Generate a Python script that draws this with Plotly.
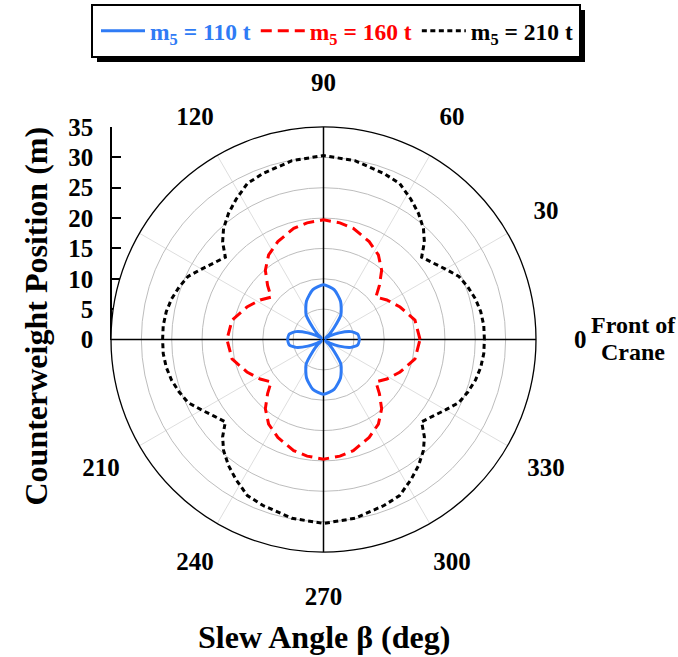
import plotly.graph_objects as go

# ---------------- data ----------------
theta_210 = [0, 5, 10, 15, 20, 25, 30, 35, 40, 44, 48, 53, 58, 64, 70, 80, 90,
             100, 110, 116, 122, 127, 132, 136, 140, 145, 150, 155, 160, 165, 170, 175, 180,
             185, 190, 195, 200, 205, 210, 215, 220, 224, 228, 233, 238, 244, 250, 260, 270,
             280, 290, 296, 302, 307, 312, 316, 320, 325, 330, 335, 340, 345, 350, 355, 360]
r_210 = [26.5, 26.5, 26.3, 25.9, 25.3, 24.6, 23.2, 22.0, 21.1, 23.1, 24.6, 26.0, 27.2, 28.6, 29.1, 29.9, 30.3,
         29.9, 29.1, 28.6, 27.2, 26.0, 24.6, 23.1, 21.1, 22.0, 23.2, 24.6, 25.3, 25.9, 26.3, 26.5, 26.5,
         26.5, 26.3, 25.9, 25.3, 24.6, 23.2, 22.0, 21.1, 23.1, 24.6, 26.0, 27.2, 28.6, 29.1, 29.9, 30.3,
         29.9, 29.1, 28.6, 27.2, 26.0, 24.6, 23.1, 21.1, 22.0, 23.2, 24.6, 25.3, 25.9, 26.3, 26.5, 26.5]

theta_160 = [0, 12, 23, 32, 39, 44, 50, 57, 65, 75, 82, 90,
             98, 105, 115, 123, 130, 136, 141, 148, 157, 168, 180,
             192, 203, 212, 219, 224, 230, 237, 245, 255, 262, 270,
             278, 285, 295, 303, 310, 316, 321, 328, 337, 348, 360]
r_160 = [15.9, 15.4, 13.7, 12.3, 11.1, 12.8, 14.9, 16.6, 17.8, 18.95, 19.4, 19.7,
         19.4, 18.95, 17.8, 16.6, 14.9, 12.8, 11.1, 12.3, 13.7, 15.4, 15.9,
         15.4, 13.7, 12.3, 11.1, 12.8, 14.9, 16.6, 17.8, 18.95, 19.4, 19.7,
         19.4, 18.95, 17.8, 16.6, 14.9, 12.8, 11.1, 12.3, 13.7, 15.4, 15.9]

theta_110 = [0, 9, 16, 23, 30, 36, 42, 48, 55, 66, 78, 90,
             102, 114, 125, 132, 138, 144, 150, 157, 164, 171, 180,
             189, 196, 203, 210, 216, 222, 228, 235, 246, 258, 270,
             282, 294, 305, 312, 318, 324, 330, 337, 344, 351, 360]
r_110 = [5.9, 5.7, 4.7, 2.8, 1.2, 0.4, 1.3, 2.6, 5.0, 6.9, 8.4, 9.0,
         8.4, 6.9, 5.0, 2.6, 1.3, 0.4, 1.2, 2.8, 4.7, 5.7, 5.9,
         5.7, 4.7, 2.8, 1.2, 0.4, 1.3, 2.6, 5.0, 6.9, 8.4, 9.0,
         8.4, 6.9, 5.0, 2.6, 1.3, 0.4, 1.2, 2.8, 4.7, 5.7, 5.9]

angle_ticks = [0, 30, 60, 90, 120, 150, 180, 210, 240, 270, 300, 330]
angle_labels = ["0", "30", "60", "90", "120", "", "", "210", "240", "270", "300", "330"]
label_r = 42.3          # radius (in r units) at which the angle labels sit
radial_ticks = [0, 5, 10, 15, 20, 25, 30, 35]
r_max = 35
r_max_labels = 50       # range of the (hidden) outer polar frame carrying the angle labels

BLUE = "#2f7bf5"
RED = "#ff0000"
BLACK = "#000000"
FONT = "Liberation Serif"

W, H = 678, 657

def px(x):
    return x / W

def py(y):
    return 1 - y / H

fig = go.Figure()

# crosshair axes (black) through the centre
fig.add_trace(go.Scatterpolar(r=[r_max, 0, r_max], theta=[0, 0, 180], mode="lines",
                              line=dict(color="black", width=1.5), showlegend=False, hoverinfo="skip"))
fig.add_trace(go.Scatterpolar(r=[r_max, 0, r_max], theta=[90, 0, 270], mode="lines",
                              line=dict(color="black", width=1.5), showlegend=False, hoverinfo="skip"))

fig.add_trace(go.Scatterpolar(r=r_110, theta=theta_110, mode="lines",
                              line=dict(color=BLUE, width=3, shape="spline", smoothing=0.6),
                              name=f"<span style='color:{BLUE}'>m<sub>5</sub> = 110 t</span>"))
fig.add_trace(go.Scatterpolar(r=r_160, theta=theta_160, mode="lines",
                              line=dict(color=RED, width=3, dash="11px,6px"),
                              name=f"<span style='color:{RED}'>m<sub>5</sub> = 160 t</span>"))
fig.add_trace(go.Scatterpolar(r=r_210, theta=theta_210, mode="lines",
                              line=dict(color=BLACK, width=3, dash="5px,3.5px"),
                              name=f"<span style='color:{BLACK}'>m<sub>5</sub> = 210 t</span>"))

# angular tick labels, centred on a circle outside the plot (hidden concentric polar frame)
fig.add_trace(go.Scatterpolar(r=[label_r] * len(angle_ticks), theta=angle_ticks, mode="text",
                              text=angle_labels, textposition="middle center", cliponaxis=False,
                              textfont=dict(family=FONT, size=25, color="black", weight="bold"),
                              showlegend=False, hoverinfo="skip", subplot="polar2"))

# invisible cartesian trace so that the left-hand radial scale is drawn
fig.add_trace(go.Scatter(x=[0], y=[0], mode="markers", marker=dict(opacity=0, size=1),
                         showlegend=False, hoverinfo="skip", xaxis="x", yaxis="y"))

cx0, cx1 = 111, 536
cy_top, cy_bot, cy_c = 127, 552, 339.5
cx_c = (cx0 + cx1) / 2
cy_lab = cy_c + 2
rad_px = (cx1 - cx0) / 2
rad2_px = rad_px * r_max_labels / r_max

fig.update_layout(
    width=W, height=H,
    margin=dict(l=0, r=0, t=0, b=0, autoexpand=False),
    paper_bgcolor="white",
    plot_bgcolor="rgba(0,0,0,0)",
    polar=dict(
        domain=dict(x=[px(cx0), px(cx1)], y=[py(cy_bot), py(cy_top)]),
        bgcolor="white",
        radialaxis=dict(range=[0, r_max], tickvals=radial_ticks, showticklabels=False, ticks="",
                        showline=False, gridcolor="#bdbdbd", gridwidth=1),
        angularaxis=dict(rotation=0, direction="counterclockwise", tickmode="array",
                         tickvals=angle_ticks, showticklabels=False, ticks="",
                         showline=True, linecolor="black", linewidth=1.3,
                         gridcolor="#dedede", gridwidth=1),
    ),
    polar2=dict(
        domain=dict(x=[px(cx_c - rad2_px), px(cx_c + rad2_px)],
                    y=[py(cy_lab + rad2_px), py(cy_lab - rad2_px)]),
        bgcolor="rgba(0,0,0,0)",
        radialaxis=dict(range=[0, r_max_labels], visible=False, showgrid=False),
        angularaxis=dict(rotation=0, direction="counterclockwise", visible=False, showgrid=False),
    ),
    xaxis=dict(visible=False, domain=[px(cx0), px(cx0) + 0.01], range=[0, 1]),
    yaxis=dict(domain=[py(cy_c), py(cy_top)], range=[0, r_max], tickvals=radial_ticks,
               anchor="free", position=px(cx0), side="left",
               showline=True, linecolor="black", linewidth=1.5,
               ticks="inside", ticklen=9, tickwidth=1.5, tickcolor="black",
               ticklabelstandoff=12,
               showgrid=False, zeroline=False,
               tickfont=dict(family=FONT, size=25, color="black", weight="bold")),
    legend=dict(orientation="h", x=px(96), xanchor="left", y=py(31), yanchor="middle",
                itemwidth=44,
                bgcolor="rgba(0,0,0,0)", borderwidth=0,
                font=dict(family=FONT, size=23.5, color="black", weight="bold")),
    shapes=[
        dict(type="rect", xref="paper", yref="paper", x0=px(97), x1=px(585), y0=py(62), y1=py(10),
             fillcolor="black", line=dict(width=0)),
        dict(type="rect", xref="paper", yref="paper", x0=px(92), x1=px(580), y0=py(57), y1=py(5),
             fillcolor="white", line=dict(color="black", width=2)),
    ],
    annotations=[
        dict(text="Counterweight Position (m)", x=px(35), y=py(316.5), xref="paper", yref="paper",
             textangle=-90, showarrow=False, xanchor="center", yanchor="middle",
             font=dict(family=FONT, size=32, color="black", weight="bold")),
        dict(text="Slew Angle β (deg)", x=px(323.5), y=py(637), xref="paper", yref="paper",
             showarrow=False, xanchor="center", yanchor="middle",
             font=dict(family=FONT, size=32, color="black", weight="bold")),
        dict(text="Front of", x=px(633), y=py(325), xref="paper", yref="paper",
             showarrow=False, xanchor="center", yanchor="middle",
             font=dict(family=FONT, size=24, color="black", weight="bold")),
        dict(text="Crane", x=px(633), y=py(352), xref="paper", yref="paper",
             showarrow=False, xanchor="center", yanchor="middle",
             font=dict(family=FONT, size=24, color="black", weight="bold")),
    ],
)

fig.write_html("out.html")
